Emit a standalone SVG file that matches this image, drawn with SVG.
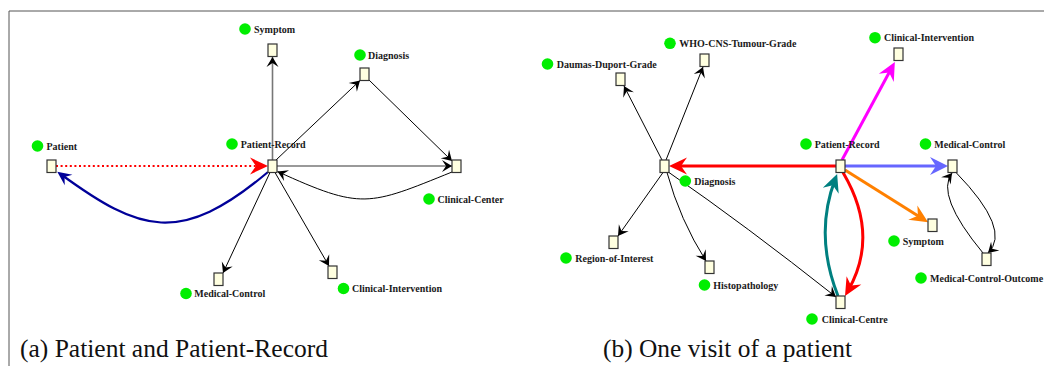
<svg xmlns="http://www.w3.org/2000/svg" width="1044" height="366" viewBox="0 0 1044 366">
<style>
.frame{stroke:#555;stroke-width:1;fill:none}
.box{fill:#ffffe0;stroke:#333;stroke-width:1.2}
.dot{fill:#00ee00}
text{font-family:"Liberation Serif","DejaVu Serif",serif}
.lbl{font-weight:bold;font-size:10px;fill:#1a1a1a}
.cap{font-size:25px;fill:#111}
.e{fill:none;stroke:#000;stroke-width:1}
.g{fill:none;stroke:#777;stroke-width:1.6}
</style>
<defs>
<marker id="mk" viewBox="-12 -8 14 16" markerWidth="14" markerHeight="16" refX="0" refY="0" orient="auto" markerUnits="userSpaceOnUse"><path d="M0,0 L-10,-6 L-6,0 L-10,6 Z" fill="#000"/></marker>
<marker id="mred" viewBox="-14 -10 22 20" markerWidth="22" markerHeight="20" refX="0" refY="0" orient="auto" markerUnits="userSpaceOnUse"><path d="M6,0 L-12,-8.5 L-6,0 L-12,8.5 Z" fill="#ff0000"/></marker>
<marker id="mmag" viewBox="-14 -10 22 20" markerWidth="22" markerHeight="20" refX="0" refY="0" orient="auto" markerUnits="userSpaceOnUse"><path d="M6,0 L-12,-8.5 L-6,0 L-12,8.5 Z" fill="#ff00ff"/></marker>
<marker id="mblu" viewBox="-14 -10 22 20" markerWidth="22" markerHeight="20" refX="0" refY="0" orient="auto" markerUnits="userSpaceOnUse"><path d="M6,0 L-12,-9 L-6,0 L-12,9 Z" fill="#6666ff"/></marker>
<marker id="mora" viewBox="-14 -10 22 20" markerWidth="22" markerHeight="20" refX="0" refY="0" orient="auto" markerUnits="userSpaceOnUse"><path d="M6,0 L-12,-8.5 L-6,0 L-12,8.5 Z" fill="#ff8000"/></marker>
<marker id="mteal" viewBox="-14 -10 22 20" markerWidth="22" markerHeight="20" refX="0" refY="0" orient="auto" markerUnits="userSpaceOnUse"><path d="M6,0 L-12,-8.5 L-6,0 L-12,8.5 Z" fill="#008080"/></marker>
<marker id="mnavy" viewBox="-12 -8 18 16" markerWidth="18" markerHeight="16" refX="0" refY="0" orient="auto" markerUnits="userSpaceOnUse"><path d="M4,0 L-10,-6.5 L-5,0 L-10,6.5 Z" fill="#000099"/></marker>
</defs>
<rect width="1044" height="366" fill="#fff"/>
<path class="frame" d="M9,366 L9,11 L1044,11"/>

<g id="connectors">
<path class="g" d="M272.5,160 L272.5,57" marker-end="url(#mk)"/>
<path class="e" d="M276,160 L360,80.5" marker-end="url(#mk)"/>
<path class="e" d="M369,80 L452,161" marker-end="url(#mk)"/>
<path class="g" d="M277,166 L452,166" marker-end="url(#mk)"/>
<path class="e" d="M452,172 C368,206 362,210 277.5,171.5" marker-end="url(#mk)"/>
<path d="M56,166 L262,166" fill="none" stroke="#ff0000" stroke-width="2.2" stroke-dasharray="2 2.6" marker-end="url(#mred)"/>
<path d="M268,172 C180,246 140,232 60.5,174" fill="none" stroke="#000099" stroke-width="2.2" marker-end="url(#mnavy)"/>
<path class="e" d="M270,172.5 L223,273" marker-end="url(#mk)"/>
<path class="e" d="M275,172.5 L329,266" marker-end="url(#mk)"/>
<path d="M836,166 L675,166" fill="none" stroke="#ff0000" stroke-width="3" marker-end="url(#mred)"/>
<path d="M842,160 L892,67.3" fill="none" stroke="#ff00ff" stroke-width="3" marker-end="url(#mmag)"/>
<path d="M845,166 L942,166" fill="none" stroke="#6666ff" stroke-width="3" marker-end="url(#mblu)"/>
<path d="M845,170 L923,219" fill="none" stroke="#ff8000" stroke-width="3" marker-end="url(#mora)"/>
<path d="M843,172.5 Q880,235 848,290.8" fill="none" stroke="#ff0000" stroke-width="3" marker-end="url(#mred)"/>
<path d="M838,296 Q814,235 835,179.6" fill="none" stroke="#008080" stroke-width="3" marker-end="url(#mteal)"/>
<path class="e" d="M662,160 L624,86" marker-end="url(#mk)"/>
<path class="e" d="M666,160 L703,67" marker-end="url(#mk)"/>
<path class="e" d="M663,172.5 L618,236" marker-end="url(#mk)"/>
<path class="e" d="M667,172.5 Q680,220 706,261" marker-end="url(#mk)"/>
<path class="e" d="M669,172.5 Q745,225 836,297" marker-end="url(#mk)"/>
<path class="e" d="M956,172.5 Q1012,230 988,253" marker-end="url(#mk)"/>
<path class="e" d="M983,253 Q935,195 952,173" marker-end="url(#mk)"/>
</g>

<g id="a-symptom"><rect class="box" x="268" y="44" width="9" height="12.5"/><circle class="dot" cx="245" cy="29" r="5.8"/><text class="lbl" x="254" y="32.5">Symptom</text></g>
<g id="a-diagnosis"><rect class="box" x="360" y="68" width="9" height="12.5"/><circle class="dot" cx="360" cy="55" r="5.8"/><text class="lbl" x="368" y="58.5">Diagnosis</text></g>
<g id="a-patient"><rect class="box" x="47" y="160" width="9" height="12.5"/><circle class="dot" cx="37.5" cy="146" r="5.8"/><text class="lbl" x="46.5" y="149.5">Patient</text></g>
<g id="a-patient-record"><rect class="box" x="268" y="160" width="9" height="12.5"/><circle class="dot" cx="232" cy="144" r="5.8"/><text class="lbl" x="240.7" y="147.5">Patient-Record</text></g>
<g id="a-clinical-center"><rect class="box" x="452" y="160" width="9" height="12.5"/><circle class="dot" cx="429" cy="199" r="5.8"/><text class="lbl" x="437.5" y="202.5">Clinical-Center</text></g>
<g id="a-medical-control"><rect class="box" x="214" y="273" width="9" height="12.5"/><circle class="dot" cx="186" cy="293.5" r="5.8"/><text class="lbl" x="194.3" y="297">Medical-Control</text></g>
<g id="a-clinical-intervention"><rect class="box" x="328" y="266" width="9" height="12.5"/><circle class="dot" cx="343.5" cy="288.5" r="5.8"/><text class="lbl" x="352" y="292">Clinical-Intervention</text></g>

<g id="b-daumas-duport-grade"><rect class="box" x="616" y="73" width="9" height="12.5"/><circle class="dot" cx="547.5" cy="64" r="5.8"/><text class="lbl" x="556.7" y="67.5">Daumas-Duport-Grade</text></g>
<g id="b-who-cns-tumour-grade"><rect class="box" x="700" y="54" width="9" height="12.5"/><circle class="dot" cx="670" cy="43.3" r="5.8"/><text class="lbl" x="679.3" y="46.8">WHO-CNS-Tumour-Grade</text></g>
<g id="b-clinical-intervention"><rect class="box" x="894" y="48" width="9" height="12.5"/><circle class="dot" cx="875" cy="37.7" r="5.8"/><text class="lbl" x="884" y="41.2">Clinical-Intervention</text></g>
<g id="b-patient-record"><rect class="box" x="836" y="160" width="9" height="12.5"/><circle class="dot" cx="806" cy="144" r="5.8"/><text class="lbl" x="814.7" y="147.5">Patient-Record</text></g>
<g id="b-medical-control"><rect class="box" x="948" y="160" width="9" height="12.5"/><circle class="dot" cx="925.5" cy="144" r="5.8"/><text class="lbl" x="934.3" y="147.5">Medical-Control</text></g>
<g id="b-diagnosis"><rect class="box" x="660" y="160" width="9" height="12.5"/><circle class="dot" cx="685.3" cy="181" r="5.8"/><text class="lbl" x="694.3" y="184.5">Diagnosis</text></g>
<g id="b-region-of-interest"><rect class="box" x="609" y="236" width="9" height="12.5"/><circle class="dot" cx="566" cy="258" r="5.8"/><text class="lbl" x="575.3" y="261.5">Region-of-Interest</text></g>
<g id="b-histopathology"><rect class="box" x="705" y="261" width="9" height="12.5"/><circle class="dot" cx="704.5" cy="285" r="5.8"/><text class="lbl" x="713.3" y="288.5">Histopathology</text></g>
<g id="b-clinical-centre"><rect class="box" x="836" y="296" width="9" height="12.5"/><circle class="dot" cx="812" cy="319" r="5.8"/><text class="lbl" x="821.7" y="322.5">Clinical-Centre</text></g>
<g id="b-symptom"><rect class="box" x="928" y="219" width="9" height="12.5"/><circle class="dot" cx="894" cy="241" r="5.8"/><text class="lbl" x="902.7" y="244.5">Symptom</text></g>
<g id="b-medical-control-outcome"><rect class="box" x="982" y="253" width="9" height="12.5"/><circle class="dot" cx="921" cy="278" r="5.8"/><text class="lbl" x="930" y="281.5">Medical-Control-Outcome</text></g>

<text class="cap" x="20" y="357" textLength="308" lengthAdjust="spacingAndGlyphs">(a) Patient and Patient-Record</text>
<text class="cap" x="603" y="357" textLength="249" lengthAdjust="spacingAndGlyphs">(b) One visit of a patient</text>
</svg>
